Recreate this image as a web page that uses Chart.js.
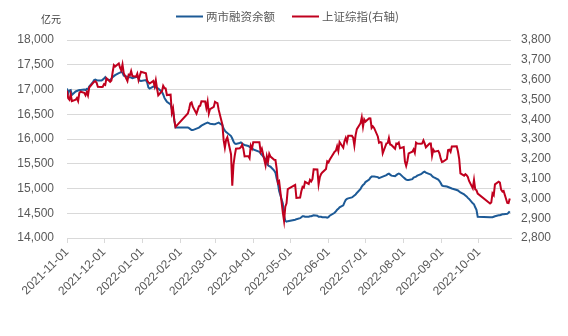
<!DOCTYPE html>
<html>
<head>
<meta charset="utf-8">
<script src="https://cdn.jsdelivr.net/npm/chart.js@4.4.1/dist/chart.umd.min.js"></script>
<style>
  html, body { margin: 0; padding: 0; background: #fff; }
  #wrap { width: 568px; height: 336px; }
</style>
</head>
<body>
<div id="wrap"><canvas id="marginChart"></canvas></div>
<script>
// trading days, one line per month
const dates = [
  '2021-11-01','2021-11-02','2021-11-03','2021-11-04','2021-11-05','2021-11-08','2021-11-09','2021-11-10','2021-11-11','2021-11-12','2021-11-15','2021-11-16','2021-11-17','2021-11-18','2021-11-19','2021-11-22','2021-11-23','2021-11-24','2021-11-25','2021-11-26','2021-11-29','2021-11-30',
  '2021-12-01','2021-12-02','2021-12-03','2021-12-06','2021-12-07','2021-12-08','2021-12-09','2021-12-10','2021-12-13','2021-12-14','2021-12-15','2021-12-16','2021-12-17','2021-12-20','2021-12-21','2021-12-22','2021-12-23','2021-12-24','2021-12-27','2021-12-28','2021-12-29','2021-12-30','2021-12-31',
  '2022-01-04','2022-01-05','2022-01-06','2022-01-07','2022-01-10','2022-01-11','2022-01-12','2022-01-13','2022-01-14','2022-01-17','2022-01-18','2022-01-19','2022-01-20','2022-01-21','2022-01-24','2022-01-25','2022-01-26','2022-01-27','2022-01-28',
  '2022-02-07','2022-02-08','2022-02-09','2022-02-10','2022-02-11','2022-02-14','2022-02-15','2022-02-16','2022-02-17','2022-02-18','2022-02-21','2022-02-22','2022-02-23','2022-02-24','2022-02-25','2022-02-28',
  '2022-03-01','2022-03-02','2022-03-03','2022-03-04','2022-03-07','2022-03-08','2022-03-09','2022-03-10','2022-03-11','2022-03-14','2022-03-15','2022-03-16','2022-03-17','2022-03-18','2022-03-21','2022-03-22','2022-03-23','2022-03-24','2022-03-25','2022-03-28','2022-03-29','2022-03-30','2022-03-31',
  '2022-04-01','2022-04-06','2022-04-07','2022-04-08','2022-04-11','2022-04-12','2022-04-13','2022-04-14','2022-04-15','2022-04-18','2022-04-19','2022-04-20','2022-04-21','2022-04-22','2022-04-25','2022-04-26','2022-04-27','2022-04-28','2022-04-29',
  '2022-05-05','2022-05-06','2022-05-09','2022-05-10','2022-05-11','2022-05-12','2022-05-13','2022-05-16','2022-05-17','2022-05-18','2022-05-19','2022-05-20','2022-05-23','2022-05-24','2022-05-25','2022-05-26','2022-05-27','2022-05-30','2022-05-31',
  '2022-06-01','2022-06-02','2022-06-06','2022-06-07','2022-06-08','2022-06-09','2022-06-10','2022-06-13','2022-06-14','2022-06-15','2022-06-16','2022-06-17','2022-06-20','2022-06-21','2022-06-22','2022-06-23','2022-06-24','2022-06-27','2022-06-28','2022-06-29','2022-06-30',
  '2022-07-01','2022-07-04','2022-07-05','2022-07-06','2022-07-07','2022-07-08','2022-07-11','2022-07-12','2022-07-13','2022-07-14','2022-07-15','2022-07-18','2022-07-19','2022-07-20','2022-07-21','2022-07-22','2022-07-25','2022-07-26','2022-07-27','2022-07-28','2022-07-29',
  '2022-08-01','2022-08-02','2022-08-03','2022-08-04','2022-08-05','2022-08-08','2022-08-09','2022-08-10','2022-08-11','2022-08-12','2022-08-15','2022-08-16','2022-08-17','2022-08-18','2022-08-19','2022-08-22','2022-08-23','2022-08-24','2022-08-25','2022-08-26','2022-08-29','2022-08-30','2022-08-31',
  '2022-09-01','2022-09-02','2022-09-05','2022-09-06','2022-09-07','2022-09-08','2022-09-09','2022-09-13','2022-09-14','2022-09-15','2022-09-16','2022-09-19','2022-09-20','2022-09-21','2022-09-22','2022-09-23','2022-09-26','2022-09-27','2022-09-28','2022-09-29','2022-09-30',
  '2022-10-10','2022-10-11','2022-10-12','2022-10-13','2022-10-14','2022-10-17','2022-10-18','2022-10-19','2022-10-20','2022-10-21','2022-10-24','2022-10-25','2022-10-26'
];

// 两市融资余额 (亿元), left axis
const marginBalance = [
  17020,16920,16980,16990,16890,16960,16970,16980,16990,16990,17000,16990,17010,17000,17060,17150,17190,17200,17190,17180,17180,17200,
  17220,17250,17210,17190,17220,17250,17270,17290,17330,17340,17360,17340,17280,17260,17250,17250,17240,17230,17250,17260,17230,17180,17170,
  17190,17140,17040,17020,17060,17060,17040,17030,17020,16950,16900,16830,16790,16750,16700,16600,16560,16380,16230,
  16230,16220,16200,16180,16180,16210,16220,16230,16250,16270,16310,16320,16330,16320,16310,16300,
  16300,16310,16320,16330,16280,16210,16170,16140,16120,16060,16010,15950,15910,15900,15920,15930,15910,15890,15880,15860,15840,15850,15820,
  15790,15740,15710,15680,15590,15520,15470,15450,15440,15360,15320,15200,15110,14950,14700,14450,14350,14330,14340,
  14370,14380,14400,14420,14440,14440,14430,14430,14440,14440,14450,14460,14450,14430,14430,14430,14420,14420,14410,
  14420,14450,14510,14540,14570,14590,14620,14660,14720,14770,14790,14800,14820,14840,14860,14880,14910,14990,15040,15070,15090,
  15130,15180,15220,15240,15240,15240,15230,15210,15220,15230,15240,15270,15290,15300,15280,15260,15250,15270,15290,15300,15290,
  15220,15200,15180,15170,15170,15190,15220,15230,15240,15260,15290,15310,15330,15340,15320,15290,15280,15250,15230,15220,15180,15150,15110,
  15060,15050,15040,15030,15020,15010,15000,14970,14960,14940,14920,14880,14860,14840,14810,14790,14700,14680,14620,14570,14430,
  14420,14420,14420,14430,14440,14460,14460,14470,14480,14480,14490,14510,14540
];

// 上证综指, right axis
const sseIndex = [
  3544,3505,3498,3526,3491,3498,3507,3492,3532,3539,3533,3521,3537,3520,3560,3582,3589,3592,3584,3564,3563,3564,
  3577,3573,3607,3589,3595,3637,3673,3666,3681,3661,3647,3676,3632,3593,3625,3622,3643,3618,3615,3630,3597,3619,3640,
  3632,3595,3586,3580,3593,3567,3597,3555,3521,3541,3569,3558,3555,3522,3524,3433,3455,3394,3361,
  3429,3452,3480,3485,3463,3428,3447,3465,3468,3491,3490,3457,3489,3429,3451,3462,
  3488,3484,3481,3447,3372,3294,3256,3296,3309,3223,3064,3170,3216,3251,3253,3259,3271,3250,3212,3214,3203,3266,3252,
  3283,3283,3236,3251,3167,3213,3186,3225,3211,3195,3194,3151,3079,3087,2928,2886,2958,2975,3047,
  3068,3002,3004,3036,3058,3054,3084,3073,3094,3086,3097,3147,3146,3071,3107,3123,3131,3149,3187,
  3182,3195,3236,3241,3263,3239,3285,3256,3289,3306,3285,3316,3316,3307,3267,3320,3350,3380,3409,3362,3399,
  3388,3405,3404,3356,3364,3356,3313,3281,3284,3282,3228,3278,3279,3305,3272,3270,3251,3277,3275,3282,3253,
  3259,3186,3164,3189,3227,3236,3247,3230,3282,3277,3276,3278,3293,3278,3258,3277,3277,3216,3246,3236,3240,3227,3202,
  3184,3186,3199,3244,3246,3235,3262,3263,3237,3200,3126,3115,3122,3117,3108,3088,3051,3093,3045,3041,3024,
  2974,2979,3025,3016,3071,3084,3080,3044,3035,3038,2977,2976,2999
];

const tickLabels = ['2021-11-01','2021-12-01','2022-01-01','2022-02-01','2022-03-01','2022-04-01',
  '2022-05-01','2022-06-01','2022-07-01','2022-08-01','2022-09-01','2022-10-01'];
const axisEnd = '2022-10-27';

const seriesNames = ['两市融资余额', '上证综指(右轴)'];
const unitLabel = '亿元';

// days since the first tick, so the x axis keeps calendar spacing
const base = Date.parse(tickLabels[0]);
const dayOf = s => (Date.parse(s) - base) / 86400000;
const tickDays = tickLabels.map(dayOf);

const blue = '#1D5A96';
const red = '#C0001E';
const grey = '#595959';
const gridGrey = '#D9D9D9';

// unit text and legend drawn at the top
const topTexts = {
  id: 'topTexts',
  afterDraw(chart) {
    const c = chart.ctx;
    c.save();
    c.textBaseline = 'middle';
    c.fillStyle = '#404040';
    c.font = '10px "Noto Sans CJK SC"';
    c.fillText(unitLabel, 41, 19);

    const spots = [176, 292];
    c.font = '11.5px "Noto Sans CJK SC"';
    chart.data.datasets.forEach((ds, i) => {
      const x = spots[i];
      c.strokeStyle = ds.borderColor;
      c.lineWidth = 2;
      c.beginPath();
      c.moveTo(x, 16.5);
      c.lineTo(x + 27, 16.5);
      c.stroke();
      c.fillStyle = grey;
      c.fillText(ds.label, x + 30, 17);
    });
    c.restore();
  }
};

const ctx = document.getElementById('marginChart');

new Chart(ctx, {
  type: 'line',
  data: {
    datasets: [{
      label: seriesNames[0],
      data: dates.map((d, i) => ({ x: dayOf(d), y: marginBalance[i] })),
      borderColor: blue,
      borderWidth: 2,
      pointRadius: 0,
      tension: 0,
      yAxisID: 'y',
      order: 1
    }, {
      label: seriesNames[1],
      data: dates.map((d, i) => ({ x: dayOf(d), y: sseIndex[i] })),
      borderColor: red,
      borderWidth: 2,
      pointRadius: 0,
      tension: 0,
      yAxisID: 'y2',
      order: 0
    }]
  },
  options: {
    responsive: true,
    maintainAspectRatio: false,
    animation: false,
    layout: { padding: { top: 40, left: 0, right: 0, bottom: 0 } },
    plugins: {
      legend: { display: false },
      tooltip: { enabled: false }
    },
    scales: {
      x: {
        type: 'linear',
        min: 0,
        max: dayOf(axisEnd),
        afterBuildTicks: axis => { axis.ticks = tickDays.map(v => ({ value: v })); },
        afterFit: axis => { axis.height = 98; },
        grid: {
          drawOnChartArea: false,
          drawTicks: true,
          tickLength: 5,
          color: gridGrey
        },
        border: { display: true, color: gridGrey },
        ticks: {
          autoSkip: false,
          minRotation: 45,
          maxRotation: 45,
          padding: 2,
          color: grey,
          font: { family: '"Liberation Sans", Arial', size: 12 },
          callback: v => tickLabels[tickDays.indexOf(v)]
        }
      },
      y: {
        position: 'left',
        min: 14000,
        max: 18000,
        afterFit: axis => { axis.width = 67; },
        grid: { color: gridGrey, drawTicks: false },
        border: { display: false },
        ticks: {
          stepSize: 500,
          padding: 13,
          color: grey,
          font: { family: '"Liberation Sans", Arial', size: 12 },
          callback: v => v.toLocaleString('en-US')
        }
      },
      y2: {
        position: 'right',
        min: 2800,
        max: 3800,
        afterFit: axis => { axis.width = 57; },
        grid: { display: false, drawTicks: false },
        border: { display: false },
        ticks: {
          stepSize: 100,
          padding: 10,
          color: grey,
          font: { family: '"Liberation Sans", Arial', size: 12 },
          callback: v => v.toLocaleString('en-US')
        }
      }
    }
  },
  plugins: [topTexts]
});
</script>
</body>
</html>
